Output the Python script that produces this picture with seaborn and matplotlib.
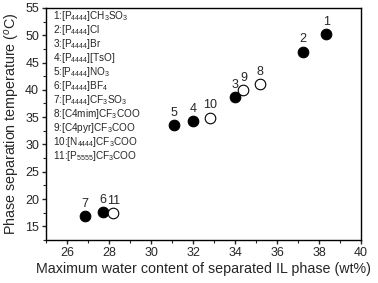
import matplotlib
matplotlib.use('Agg')
import matplotlib.pyplot as plt
from matplotlib.ticker import MultipleLocator
import pandas as pd
import seaborn as sns

# ionic liquids, numbered as in the key
ids = ['1', '2', '3', '4', '5', '6', '7', '8', '9', '10', '11']
water = [38.35, 37.25, 34.0, 32.0, 31.1, 27.7, 26.85, 35.2, 34.4, 32.8, 28.2]
temp = [50.2, 47.0, 38.7, 34.2, 33.5, 17.6, 16.9, 41.1, 39.9, 34.9, 17.4]
# phosphonium salts filled, the others open
filled = [True, True, True, True, True, True, True, False, False, False, False]
key = [r'1:[P$_{4444}$]CH$_3$SO$_3$',
       r'2:[P$_{4444}$]Cl',
       r'3:[P$_{4444}$]Br',
       r'4:[P$_{4444}$][TsO]',
       r'5:[P$_{4444}$]NO$_3$',
       r'6:[P$_{4444}$]BF$_4$',
       r'7:[P$_{4444}$]CF$_3$SO$_3$',
       r'8:[C4mim]CF$_3$COO',
       r'9:[C4pyr]CF$_3$COO',
       r'10:[N$_{4444}$]CF$_3$COO',
       r'11:[P$_{5555}$]CF$_3$COO']

df = pd.DataFrame({'id': ids, 'water': water, 'temp': temp, 'filled': filled})

sns.set_style('ticks')
plt.rcParams['font.family'] = ['Liberation Sans', 'DejaVu Sans']
plt.rcParams['mathtext.fontset'] = 'custom'
plt.rcParams['mathtext.rm'] = 'Liberation Sans'
plt.rcParams['mathtext.it'] = 'Liberation Sans:italic'

fig = plt.figure(figsize=(3.78, 2.83), dpi=100)
ax = fig.add_axes([0.122, 0.152, 0.833, 0.820])

sns.scatterplot(data=df[df['filled']], x='water', y='temp', color='black',
                edgecolor='black', linewidth=0.8, s=58, ax=ax, zorder=3)
sns.scatterplot(data=df[~df['filled']], x='water', y='temp', color='white',
                edgecolor='black', linewidth=0.8, s=58, ax=ax, zorder=3)

for _, row in df.iterrows():
    ax.annotate(row['id'], (row['water'], row['temp']), xytext=(0, 4.5),
                textcoords='offset points', ha='center', va='bottom', fontsize=9)

for i, line in enumerate(key):
    ax.text(0.022, 1 - (8 + 14 * i) / 232, line, transform=ax.transAxes,
            ha='left', va='center', fontsize=7.2)

ax.set_xlim(25, 40)
ax.set_ylim(12.5, 55)
ax.xaxis.set_major_locator(MultipleLocator(2))
ax.xaxis.set_minor_locator(MultipleLocator(1))
ax.yaxis.set_major_locator(MultipleLocator(5))
ax.yaxis.set_minor_locator(MultipleLocator(2.5))
ax.tick_params(which='major', direction='out', length=3, width=1, labelsize=9, pad=2)
ax.tick_params(which='minor', direction='out', length=2, width=0.8)
ax.set_xticks([26, 28, 30, 32, 34, 36, 38, 40])
ax.set_yticks([15, 20, 25, 30, 35, 40, 45, 50, 55])
for sp in ax.spines.values():
    sp.set_linewidth(1)
    sp.set_color('black')

ax.set_xlabel('Maximum water content of separated IL phase (wt%)', fontsize=10.3, labelpad=2)
ax.set_ylabel(r'Phase separation temperature ($^{o}$C)', fontsize=10.3, labelpad=2)

fig.savefig('out.png', dpi=100)
